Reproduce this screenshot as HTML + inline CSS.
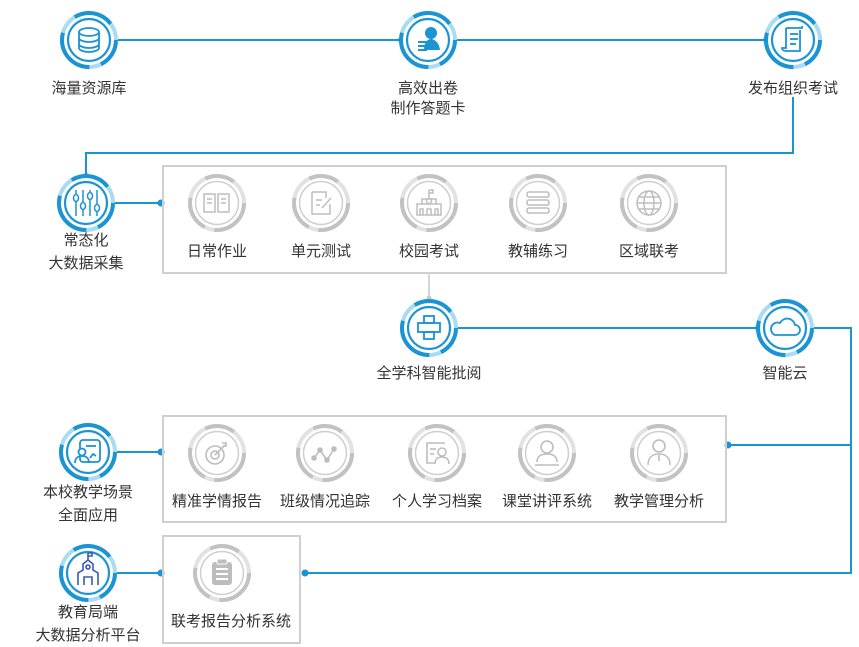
<!DOCTYPE html>
<html><head><meta charset="utf-8">
<style>
html,body{margin:0;padding:0;background:#fff;}
svg{display:block;}
text{font-family:"Liberation Sans","Noto Sans CJK SC",sans-serif;font-size:15px;fill:#333;text-anchor:middle;}
</style></head>
<body>
<svg width="859" height="647" viewBox="0 0 859 647" xmlns="http://www.w3.org/2000/svg">
<defs>
  <g id="bc">
    <circle r="27" fill="#fff" stroke="#a9dbf2" stroke-width="4"/>
    <circle r="27" fill="none" stroke="#1a94d2" stroke-width="4" stroke-dasharray="30 12 50 20 40 18" />
    <circle r="21" fill="#fff" stroke="#1a94d2" stroke-width="2.2"/>
  </g>
  <g id="gc">
    <circle r="27" fill="#fff" stroke="#e2e2e2" stroke-width="4"/>
    <circle r="27" fill="none" stroke="#c2c2c2" stroke-width="4" stroke-dasharray="45 10 35 25 30 25" />
    <circle r="21.5" fill="none" stroke="#cfcfcf" stroke-width="1.5"/>
  </g>
</defs>

<g stroke="#1a94d2" stroke-width="2" fill="none">
  <line x1="115" y1="40" x2="401" y2="40"/>
  <line x1="455" y1="40" x2="766" y2="40"/>
  <polyline points="793,97 793,153 86,153 86,176"/>
  <line x1="114" y1="203" x2="161" y2="203"/>
  <line x1="457" y1="328" x2="758" y2="328"/>
  <polyline points="812,328 851,328 851,573 305,573"/>
  <line x1="728" y1="445" x2="851" y2="445"/>
  <line x1="114" y1="452" x2="161" y2="452"/>
  <line x1="114" y1="573" x2="161" y2="573"/>
</g>
<g fill="#1a94d2">
  <circle cx="401" cy="40" r="3"/><circle cx="766" cy="40" r="3"/>
  <circle cx="86" cy="176" r="3"/><circle cx="161" cy="203" r="3.5"/>
  <circle cx="758" cy="328" r="3"/><circle cx="728" cy="445" r="3.5"/>
  <circle cx="161" cy="452" r="3.5"/><circle cx="161" cy="573" r="3.5"/>
  <circle cx="305" cy="573" r="3.5"/>
</g>
<line x1="429" y1="273" x2="429" y2="298" stroke="#c8c8c8" stroke-width="1.5"/>
<circle cx="429" cy="298" r="2.5" fill="#c8c8c8"/>

<g fill="none" stroke="#cfcfcf" stroke-width="2">
  <rect x="163" y="166" width="563" height="107"/>
  <rect x="163" y="416" width="563" height="106"/>
  <rect x="163" y="536" width="137" height="107"/>
</g>

<use href="#bc" x="89" y="40"/>
<g stroke="#1a94d2" stroke-width="1.8" fill="none">
  <ellipse cx="89" cy="32" rx="10" ry="4"/>
  <path d="M79 32v16c0 2 4.5 4 10 4s10-2 10-4V32M79 38c0 2 4.5 4 10 4s10-2 10-4M79 44c0 2 4.5 4 10 4s10-2 10-4"/>
</g>
<text x="89" y="93">海量资源库</text>

<use href="#bc" x="428" y="40"/>
<g fill="#1a94d2">
  <circle cx="431" cy="33" r="6"/>
  <path d="M424 50c0-8 4-11 7-11s8 3 9 11z"/>
  <rect x="418" y="41" width="9" height="2"/><rect x="418" y="45" width="9" height="2"/><rect x="418" y="49" width="9" height="2"/>
</g>
<text x="428" y="93">高效出卷</text>
<text x="428" y="113">制作答题卡</text>

<use href="#bc" x="793" y="40"/>
<g stroke="#1a94d2" stroke-width="1.8" fill="none">
  <path d="M786 28h16v-2M786 28v20h-4c0 2 2 3 4 3h14v-21"/>
  <line x1="790" y1="34" x2="798" y2="34"/><line x1="790" y1="39" x2="798" y2="39"/><line x1="790" y1="44" x2="796" y2="44"/>
</g>
<text x="793" y="93">发布组织考试</text>

<use href="#bc" x="86" y="203"/>
<g stroke="#1a94d2" stroke-width="1.5" fill="none">
  <line x1="76" y1="190" x2="76" y2="216"/><line x1="83" y1="190" x2="83" y2="216"/>
  <line x1="90" y1="190" x2="90" y2="216"/><line x1="97" y1="190" x2="97" y2="216"/>
  <ellipse cx="76" cy="198" rx="2.5" ry="3.5" fill="#fff"/><ellipse cx="83" cy="206" rx="2.5" ry="3.5" fill="#fff"/>
  <ellipse cx="90" cy="196" rx="2.5" ry="3.5" fill="#fff"/><ellipse cx="97" cy="208" rx="2.5" ry="3.5" fill="#fff"/>
</g>
<text x="86" y="245">常态化</text>
<text x="86" y="268">大数据采集</text>

<use href="#bc" x="429" y="328"/>
<g stroke="#1a94d2" stroke-width="1.8" fill="none">
  <rect x="424" y="316" width="10" height="7"/>
  <rect x="418" y="323" width="22" height="9"/>
  <rect x="424" y="332" width="10" height="7"/>
</g>
<text x="429" y="378">全学科智能批阅</text>

<use href="#bc" x="785" y="328"/>
<path d="M775 335h20a5 5 0 0 0 0-10a8 8 0 0 0-15-2a6 6 0 0 0-5 12z" stroke="#1a94d2" stroke-width="1.8" fill="none"/>
<text x="785" y="378">智能云</text>

<use href="#bc" x="88" y="452"/>
<g stroke="#1a94d2" stroke-width="1.8" fill="none">
  <rect x="80" y="440" width="20" height="22" rx="3"/>
  <line x1="86" y1="446" x2="96" y2="446"/>
  <circle cx="82" cy="452" r="3.5" fill="#fff"/>
  <path d="M75 463c0-5 3-7 7-7s7 2 7 7"/>
  <path d="M90 458l3-4 3 2"/>
</g>
<text x="88" y="497">本校教学场景</text>
<text x="88" y="520">全面应用</text>

<use href="#bc" x="88" y="573"/>
<g stroke="#3a5ab8" stroke-width="1.6" fill="none">
  <path d="M78 585v-12l5-3v-6l5-4 5 4v6l5 3v12"/>
  <path d="M84 585v-8h8v8"/><line x1="88" y1="560" x2="88" y2="553"/><path d="M88 553h4v3h-4"/>
  <circle cx="88" cy="567" r="2"/>
</g>
<text x="88" y="617">教育局端</text>
<text x="88" y="640">大数据分析平台</text>

<g stroke="#bdbdbd" stroke-width="1.5" fill="none">
  <use href="#gc" x="217" y="203"/>
  <path d="M204 194h11v18h-11zM218 194h11v18h-11z"/>
  <line x1="207" y1="199" x2="212" y2="199"/><line x1="207" y1="203" x2="212" y2="203"/><line x1="221" y1="199" x2="226" y2="199"/><line x1="221" y1="203" x2="226" y2="203"/>
  <use href="#gc" x="321" y="203"/>
  <path d="M312 192h14v6M312 192v22h18v-10"/><line x1="316" y1="200" x2="322" y2="200"/><line x1="316" y1="205" x2="320" y2="205"/><path d="M322 208l9-10"/>
  <use href="#gc" x="429" y="203"/>
  <path d="M417 215v-11h24v11zM422 204v-5h14v5"/><circle cx="429" cy="201" r="2.5"/><line x1="429" y1="198" x2="429" y2="190"/><path d="M429 190h4v3h-4"/><path d="M420 215v-6h3v6M427 215v-6h4v6M435 215v-6h3v6"/>
  <use href="#gc" x="538" y="203"/>
  <rect x="527" y="192" width="22" height="5" rx="2"/><rect x="527" y="200" width="22" height="5" rx="2"/><rect x="527" y="208" width="22" height="5" rx="2"/>
  <use href="#gc" x="649" y="203"/>
  <circle cx="649" cy="203" r="12"/><ellipse cx="649" cy="203" rx="5" ry="12"/><line x1="637" y1="203" x2="661" y2="203"/><line x1="639" y1="197" x2="659" y2="197"/><line x1="639" y1="209" x2="659" y2="209"/>
</g>
<text x="217" y="256">日常作业</text>
<text x="321" y="256">单元测试</text>
<text x="429" y="256">校园考试</text>
<text x="538" y="256">教辅练习</text>
<text x="649" y="256">区域联考</text>

<g stroke="#bdbdbd" stroke-width="1.6" fill="none">
  <use href="#gc" x="217" y="453"/>
  <circle cx="215" cy="455" r="9"/><circle cx="215" cy="455" r="4"/><path d="M215 455l10-10M222 443l4 0 0 4"/>
  <use href="#gc" x="325" y="453"/>
  <path d="M314 458l6-8 7 10 7-11"/><circle cx="314" cy="458" r="2" fill="#bdbdbd"/><circle cx="320" cy="450" r="2" fill="#bdbdbd"/><circle cx="327" cy="460" r="2" fill="#bdbdbd"/><circle cx="334" cy="449" r="2" fill="#bdbdbd"/>
  <use href="#gc" x="437" y="453"/>
  <path d="M445 443h-18v20h8"/><line x1="430" y1="449" x2="436" y2="449"/><line x1="430" y1="454" x2="434" y2="454"/><circle cx="442" cy="452" r="4"/><path d="M435 464c0-5 3-7 7-7s7 2 7 7"/>
  <use href="#gc" x="547" y="453"/>
  <circle cx="547" cy="447" r="6"/><path d="M537 462c0-6 4-8 10-8s10 2 10 8"/><line x1="535" y1="465" x2="559" y2="465"/>
  <use href="#gc" x="659" y="453"/>
  <circle cx="659" cy="446" r="6"/><path d="M648 465c0-8 5-11 11-11s11 3 11 11"/><path d="M659 455v6"/>
</g>
<text x="217" y="506">精准学情报告</text>
<text x="325" y="506">班级情况追踪</text>
<text x="437" y="506">个人学习档案</text>
<text x="547" y="506">课堂讲评系统</text>
<text x="659" y="506">教学管理分析</text>

<use href="#gc" x="222" y="573"/>
<g>
  <rect x="212" y="562" width="20" height="23" rx="3" fill="#bdbdbd"/>
  <rect x="217" y="559" width="10" height="5" rx="1" fill="#bdbdbd" stroke="#fff" stroke-width="1"/>
  <line x1="216" y1="569" x2="228" y2="569" stroke="#fff" stroke-width="2"/>
  <line x1="216" y1="574" x2="228" y2="574" stroke="#fff" stroke-width="2"/>
  <line x1="216" y1="579" x2="228" y2="579" stroke="#fff" stroke-width="2"/>
</g>
<text x="231" y="626">联考报告分析系统</text>
</svg>
</body></html>
